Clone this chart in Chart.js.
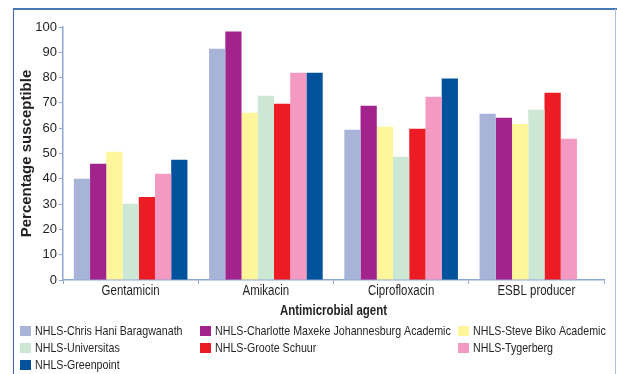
<!DOCTYPE html>
<html>
<head>
<meta charset="utf-8">
<script src="https://cdn.jsdelivr.net/npm/chart.js@4"></script>
<style>
  html, body { margin: 0; padding: 0; background: #ffffff; }
  #wrap { position: relative; width: 617px; height: 374px; overflow: hidden; }
  #c { position: absolute; left: 0; top: 0; }
  .fr { position: absolute; }
</style>
</head>
<body>
<div id="wrap">
  <div class="fr" style="left:13px;top:8px;width:604px;height:2px;background:#4a7ab5;"></div>
  <div class="fr" style="left:13px;top:8px;width:1px;height:366px;background:#3b69a8;"></div>
  <div class="fr" style="left:615px;top:9px;width:1px;height:365px;background:#a9c2e3;"></div>
  <canvas id="c" width="617" height="374"></canvas>
</div>
<script>
const categories = ["Gentamicin", "Amikacin", "Ciprofloxacin", "ESBL producer"];
const seriesNames = [
  "NHLS-Chris Hani Baragwanath",
  "NHLS-Charlotte Maxeke Johannesburg Academic",
  "NHLS-Steve Biko Academic",
  "NHLS-Universitas",
  "NHLS-Groote Schuur",
  "NHLS-Tygerberg",
  "NHLS-Greenpoint"
];
const chrisHani       = [40.0, 91.4, 59.4, 65.7];
const charlotteMaxeke = [45.9, 98.2, 68.9, 64.1];
const steveBiko       = [50.7, 66.1, 60.6, 61.7];
const universitas     = [30.1, 72.8, 48.7, 67.3];
const grooteSchuur    = [32.8, 69.7, 59.8, 74.0];
const tygerberg       = [42.0, 81.9, 72.4, 55.8];
const greenpoint      = [47.5, 81.9, 79.6, null];
const yTicks = [0, 10, 20, 30, 40, 50, 60, 70, 80, 90, 100];
const xTitle = "Antimicrobial agent";
const yTitle = "Percentage susceptible";

const seriesValues = [chrisHani, charlotteMaxeke, steveBiko, universitas, grooteSchuur, tygerberg, greenpoint];
const colors = ["#a7b4d8", "#a2238c", "#fff59b", "#cce8d5", "#ed1c24", "#f49ac2", "#00529c"];

const FONT = "'Liberation Sans', Arial, Helvetica, sans-serif";
const AXIS = "#8ea6d6";
const TEXT = "#231f20";
const NARROW = 0.82;

// texts drawn in a condensed face (horizontal squeeze around the anchor point)
const condensedTexts = new Set([...categories, xTitle]);
const narrowText = {
  id: "narrowText",
  beforeDraw(chart) {
    const ctx = chart.ctx;
    if (ctx.__narrow) return;
    const orig = ctx.fillText;
    ctx.fillText = function (text, x, y, maxWidth) {
      if (condensedTexts.has(String(text))) {
        this.save();
        this.translate(x, y);
        this.scale(NARROW, 1);
        orig.call(this, text, 0, 0);
        this.restore();
      } else if (maxWidth !== undefined) {
        orig.call(this, text, x, y, maxWidth);
      } else {
        orig.call(this, text, x, y);
      }
    };
    ctx.__narrow = true;
  }
};

const gridLegend = {
  id: "gridLegend",
  afterDraw(chart) {
    const ctx = chart.ctx;
    const colX = [20, 200, 458];
    const rowY = [331, 348, 365];
    ctx.save();
    ctx.font = "13px " + FONT;
    ctx.textBaseline = "middle";
    ctx.textAlign = "left";
    chart.data.datasets.forEach((ds, i) => {
      const cx = colX[i % 3], cy = rowY[Math.floor(i / 3)];
      ctx.fillStyle = ds.backgroundColor;
      ctx.fillRect(cx, cy - 5, 11, 10);
      ctx.fillStyle = TEXT;
      ctx.save();
      ctx.translate(cx + 15, cy + 0.5);
      ctx.scale(NARROW, 1);
      ctx.fillText(ds.label, 0, 0);
      ctx.restore();
    });
    ctx.restore();
  }
};

new Chart(document.getElementById("c"), {
  type: "bar",
  data: {
    labels: categories,
    datasets: seriesNames.map((n, i) => ({
      label: n,
      data: seriesValues[i],
      backgroundColor: colors[i],
      borderWidth: 0,
      categoryPercentage: 0.84,
      barPercentage: 1.0
    }))
  },
  options: {
    responsive: false,
    animation: false,
    devicePixelRatio: 1,
    layout: { padding: { left: 14, right: 13, top: 27, bottom: 54 } },
    plugins: { legend: { display: false }, tooltip: { enabled: false } },
    scales: {
      x: {
        offset: true,
        grid: { offset: true, drawOnChartArea: false, drawTicks: true, tickLength: 4, color: AXIS, lineWidth: 1 },
        border: { color: AXIS, width: 1.5 },
        ticks: { color: TEXT, font: { family: FONT, size: 14, lineHeight: 1.0 }, padding: 0, maxRotation: 0, autoSkip: false },
        title: { display: true, text: xTitle, color: TEXT, font: { family: FONT, size: 14, weight: "bold", lineHeight: 1.2 }, padding: { top: 0, bottom: 0 } },
        afterFit(s) { s.height = 40; }
      },
      y: {
        min: 0, max: 100,
        afterBuildTicks(s) { s.ticks = yTicks.map(v => ({ value: v })); },
        grid: { drawOnChartArea: false, drawTicks: true, tickLength: 4, color: AXIS, lineWidth: 1 },
        border: { color: AXIS, width: 1.5 },
        ticks: { color: TEXT, font: { family: FONT, size: 13 }, padding: 2 },
        title: { display: true, text: yTitle, color: TEXT, font: { family: FONT, size: 15, weight: "bold", lineHeight: 1.2 }, padding: { top: 4, bottom: 0 } },
        afterFit(s) { s.width = 49; }
      }
    }
  },
  plugins: [narrowText, gridLegend]
});
</script>
</body>
</html>
